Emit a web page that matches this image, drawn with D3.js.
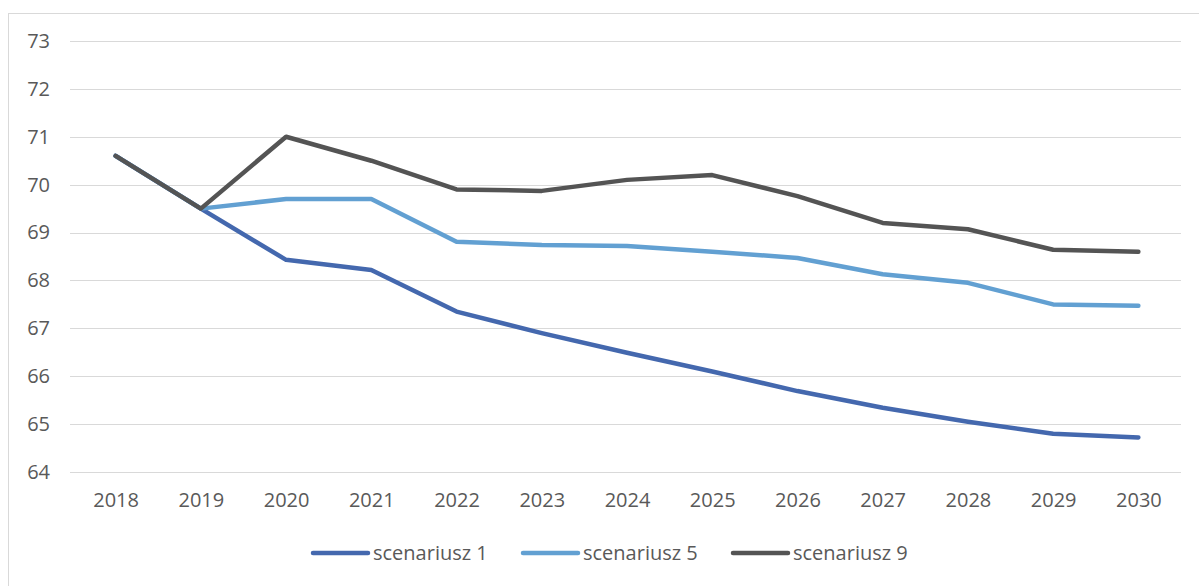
<!doctype html>
<html lang="pl">
<head>
<meta charset="utf-8">
<script src="https://cdn.jsdelivr.net/npm/d3@7"></script>
<style>
body { margin: 0; background: #fff; }
svg { display: block; }
svg text { font-family: "Open Sans", "Noto Sans", sans-serif; }
.tick text { fill: #595959; font-size: 20px; }
.legend text { fill: #595959; font-size: 20px; }
</style>
</head>
<body>
<svg width="1199" height="586"></svg>
<script>
// data
var years = ["2018","2019","2020","2021","2022","2023","2024","2025","2026","2027","2028","2029","2030"];
var scen1 = [70.6, 69.5, 68.43, 68.22, 67.35, 66.9, 66.49, 66.1, 65.69, 65.34, 65.05, 64.8, 64.72];
var scen5 = [70.6, 69.5, 69.7, 69.7, 68.81, 68.74, 68.72, 68.6, 68.47, 68.13, 67.95, 67.5, 67.47];
var scen9 = [70.6, 69.5, 71.0, 70.5, 69.9, 69.87, 70.1, 70.2, 69.76, 69.2, 69.07, 68.64, 68.6];
var yTicks = [64, 65, 66, 67, 68, 69, 70, 71, 72, 73];

var series = [
  {name: "scenariusz 1", values: scen1, color: "#4468ae"},
  {name: "scenariusz 5", values: scen5, color: "#62a0d2"},
  {name: "scenariusz 9", values: scen9, color: "#545454"}
];

var svg = d3.select("svg");

// chart frame
svg.append("rect")
    .attr("x", 8.5).attr("y", 13.5)
    .attr("width", 1200).attr("height", 600)
    .attr("fill", "none").attr("stroke", "#d9d9d9");

var gridL = 70, plotL = 73, plotR = 1181, plotT = 41, plotB = 472;

var x = d3.scalePoint().domain(years).range([plotL, plotR]).padding(0.5);
var y = d3.scaleLinear().domain([64, 73]).range([plotB, plotT]);

// gridlines
svg.append("g")
    .selectAll("line")
    .data(yTicks)
    .join("line")
    .attr("x1", gridL).attr("x2", plotR)
    .attr("y1", function(d) { return Math.round(y(d)) + 0.5; })
    .attr("y2", function(d) { return Math.round(y(d)) + 0.5; })
    .attr("stroke", "#d9d9d9").attr("stroke-width", 1);

var yAxis = svg.append("g")
    .attr("transform", "translate(" + (gridL - 20) + ",0)")
    .call(d3.axisLeft(y).tickValues(yTicks).tickSize(0).tickPadding(0));
yAxis.select(".domain").remove();

var xAxis = svg.append("g")
    .attr("transform", "translate(0," + plotB + ")")
    .call(d3.axisBottom(x).tickSize(0).tickPadding(21));
xAxis.select(".domain").remove();

var line = d3.line()
    .x(function(d, i) { return x(years[i]); })
    .y(function(d) { return y(d); });

svg.append("g")
    .selectAll("path")
    .data(series)
    .join("path")
    .attr("d", function(s) { return line(s.values); })
    .attr("fill", "none")
    .attr("stroke", function(s) { return s.color; })
    .attr("stroke-width", 4.5)
    .attr("stroke-linejoin", "round")
    .attr("stroke-linecap", "round");

// legend
var legendX = [313, 523, 733];
var lg = svg.append("g").attr("class", "legend")
    .selectAll("g")
    .data(series)
    .join("g")
    .attr("transform", function(d, i) { return "translate(" + legendX[i] + ",553)"; });

lg.append("line")
    .attr("x1", 0).attr("x2", 55)
    .attr("stroke", function(d) { return d.color; })
    .attr("stroke-width", 4.5)
    .attr("stroke-linecap", "round");

lg.append("text")
    .attr("x", 60).attr("dy", "0.35em")
    .text(function(d) { return d.name; });
</script>
</body>
</html>
